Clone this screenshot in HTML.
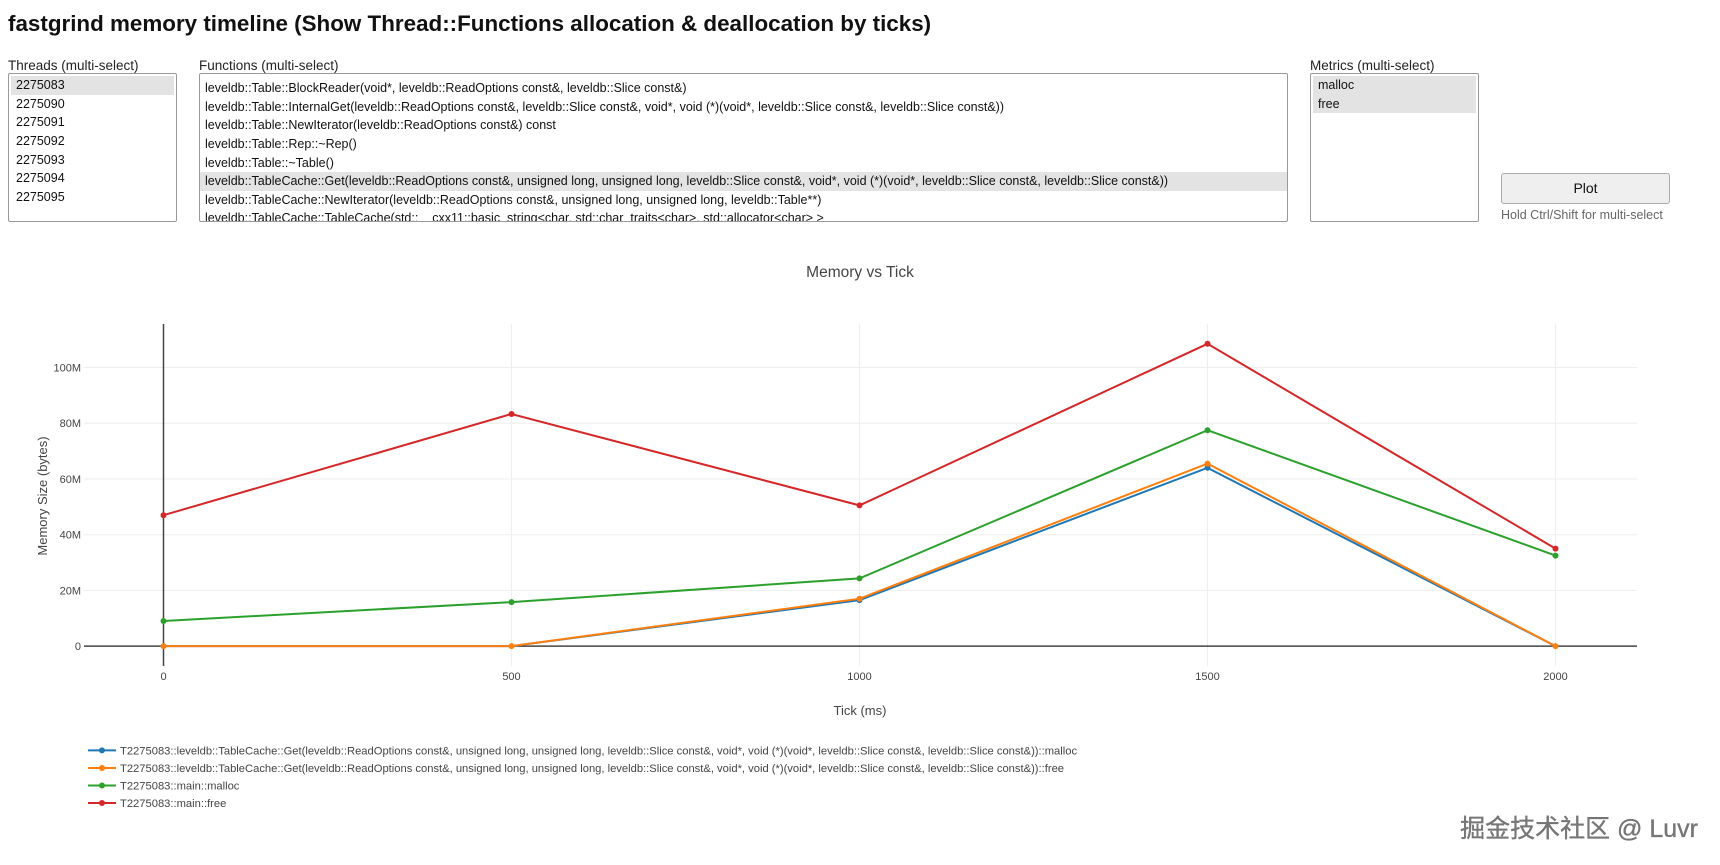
<!DOCTYPE html>
<html><head><meta charset="utf-8"><style>
body{margin:0;width:1720px;height:865px;background:#fff;font-family:"Liberation Sans",sans-serif;position:relative;overflow:hidden;color:#111}
.a{position:absolute}
h1{position:absolute;left:8px;top:11px;margin:0;font-size:22.4px;font-weight:bold;color:#111}
.lbl{position:absolute;font-size:13.5px;color:#222;top:58px}
.box{position:absolute;top:73px;height:145px;border:1px solid #999;border-radius:2px;overflow:hidden;font-size:12.5px;color:#111;background:#fff}
.box div{height:18.65px;line-height:18.65px;padding-left:5px;white-space:nowrap}
.sel{background:#e3e3e3}
</style></head><body>
<h1>fastgrind memory timeline (Show Thread::Functions allocation &amp; deallocation by ticks)</h1>
<div class="lbl" style="left:8px">Threads (multi-select)</div>
<div class="lbl" style="left:199px">Functions (multi-select)</div>
<div class="lbl" style="left:1310px">Metrics (multi-select)</div>
<div class="box" style="left:8px;width:167px;padding-top:2px">
<div class="sel" style="margin-right:2px;margin-left:2px">2275083</div><div style="padding-left:7px">2275090</div><div style="padding-left:7px">2275091</div><div style="padding-left:7px">2275092</div><div style="padding-left:7px">2275093</div><div style="padding-left:7px">2275094</div><div style="padding-left:7px">2275095</div></div>
<div class="box" style="left:199px;width:1087px;padding-top:5px;height:142px">
<div>leveldb::Table::BlockReader(void*, leveldb::ReadOptions const&amp;, leveldb::Slice const&amp;)</div>
<div>leveldb::Table::InternalGet(leveldb::ReadOptions const&amp;, leveldb::Slice const&amp;, void*, void (*)(void*, leveldb::Slice const&amp;, leveldb::Slice const&amp;))</div>
<div>leveldb::Table::NewIterator(leveldb::ReadOptions const&amp;) const</div>
<div>leveldb::Table::Rep::~Rep()</div>
<div>leveldb::Table::~Table()</div>
<div class="sel">leveldb::TableCache::Get(leveldb::ReadOptions const&amp;, unsigned long, unsigned long, leveldb::Slice const&amp;, void*, void (*)(void*, leveldb::Slice const&amp;, leveldb::Slice const&amp;))</div>
<div>leveldb::TableCache::NewIterator(leveldb::ReadOptions const&amp;, unsigned long, unsigned long, leveldb::Table**)</div>
<div>leveldb::TableCache::TableCache(std::__cxx11::basic_string&lt;char, std::char_traits&lt;char&gt;, std::allocator&lt;char&gt; &gt;</div></div>
<div class="box" style="left:1310px;width:167px;padding-top:2px">
<div class="sel" style="margin:0 2px">malloc</div><div class="sel" style="margin:0 2px">free</div></div>
<div class="a" style="left:1501px;top:173px;width:167px;height:29px;border:1px solid #aaa;border-radius:3px;background:#efefef;font-size:14px;text-align:center;line-height:29px;color:#111">Plot</div>
<div class="a" style="left:1501px;top:208px;font-size:12.5px;color:#666">Hold Ctrl/Shift for multi-select</div>
<svg class="a" style="left:0;top:0" width="1720" height="865" font-family="Liberation Sans, sans-serif">
<text x="860" y="277" font-size="15.5" fill="#444" text-anchor="middle">Memory vs Tick</text>
<g stroke="#eee" stroke-width="1">
<line x1="511.5" y1="324" x2="511.5" y2="666"/><line x1="859.5" y1="324" x2="859.5" y2="666"/><line x1="1207.5" y1="324" x2="1207.5" y2="666"/><line x1="1555.5" y1="324" x2="1555.5" y2="666"/>
<line x1="84" y1="590.4" x2="1637" y2="590.4"/><line x1="84" y1="534.7" x2="1637" y2="534.7"/><line x1="84" y1="479" x2="1637" y2="479"/><line x1="84" y1="423.2" x2="1637" y2="423.2"/><line x1="84" y1="367.5" x2="1637" y2="367.5"/>
</g>
<line x1="84" y1="646.1" x2="1637" y2="646.1" stroke="#444" stroke-width="1.5"/>
<line x1="163.5" y1="324" x2="163.5" y2="666" stroke="#444" stroke-width="1.5"/>
<g font-size="11" fill="#444" text-anchor="end">
<text x="81" y="650">0</text><text x="81" y="594.4">20M</text><text x="81" y="538.7">40M</text><text x="81" y="483">60M</text><text x="81" y="427.2">80M</text><text x="81" y="371.5">100M</text></g>
<g font-size="11" fill="#444" text-anchor="middle">
<text x="163.5" y="680">0</text><text x="511.5" y="680">500</text><text x="859.5" y="680">1000</text><text x="1207.5" y="680">1500</text><text x="1555.5" y="680">2000</text></g>
<text x="860" y="715" font-size="13" fill="#444" text-anchor="middle">Tick (ms)</text>
<text transform="translate(47,496) rotate(-90)" font-size="13" fill="#444" text-anchor="middle">Memory Size (bytes)</text>
<g fill="none" stroke-width="2">
<polyline stroke="#1f77b4" points="163.5,646.1 511.5,646.1 859.5,600.1 1207.5,467.8 1555.5,646.1"/>
<polyline stroke="#ff7f0e" points="163.5,646.1 511.5,646.1 859.5,598.7 1207.5,463.6 1555.5,646.1"/>
<polyline stroke="#2ca02c" points="163.5,621 511.5,602.1 859.5,578.4 1207.5,430.2 1555.5,555.6"/>
<polyline stroke="#d62728" points="163.5,515.2 511.5,414 859.5,505.4 1207.5,343.8 1555.5,548.6"/>
</g>
<g fill="#1f77b4"><circle cx="859.5" cy="600.1" r="3"/><circle cx="1207.5" cy="467.8" r="3"/></g>
<g fill="#ff7f0e"><circle cx="163.5" cy="646.1" r="3"/><circle cx="511.5" cy="646.1" r="3"/><circle cx="859.5" cy="598.7" r="3"/><circle cx="1207.5" cy="463.6" r="3"/><circle cx="1555.5" cy="646.1" r="3"/></g>
<g fill="#2ca02c"><circle cx="163.5" cy="621" r="3"/><circle cx="511.5" cy="602.1" r="3"/><circle cx="859.5" cy="578.4" r="3"/><circle cx="1207.5" cy="430.2" r="3"/><circle cx="1555.5" cy="555.6" r="3"/></g>
<g fill="#d62728"><circle cx="163.5" cy="515.2" r="3"/><circle cx="511.5" cy="414" r="3"/><circle cx="859.5" cy="505.4" r="3"/><circle cx="1207.5" cy="343.8" r="3"/><circle cx="1555.5" cy="548.6" r="3"/></g>
<g stroke-width="2">
<line x1="88" y1="750.4" x2="116" y2="750.4" stroke="#1f77b4"/><circle cx="102" cy="750.4" r="3" fill="#1f77b4"/>
<line x1="88" y1="768" x2="116" y2="768" stroke="#ff7f0e"/><circle cx="102" cy="768" r="3" fill="#ff7f0e"/>
<line x1="88" y1="785.5" x2="116" y2="785.5" stroke="#2ca02c"/><circle cx="102" cy="785.5" r="3" fill="#2ca02c"/>
<line x1="88" y1="803" x2="116" y2="803" stroke="#d62728"/><circle cx="102" cy="803" r="3" fill="#d62728"/>
</g>
<g font-size="11.2" fill="#444">
<text x="120" y="754.4">T2275083::leveldb::TableCache::Get(leveldb::ReadOptions const&amp;, unsigned long, unsigned long, leveldb::Slice const&amp;, void*, void (*)(void*, leveldb::Slice const&amp;, leveldb::Slice const&amp;))::malloc</text>
<text x="120" y="772">T2275083::leveldb::TableCache::Get(leveldb::ReadOptions const&amp;, unsigned long, unsigned long, leveldb::Slice const&amp;, void*, void (*)(void*, leveldb::Slice const&amp;, leveldb::Slice const&amp;))::free</text>
<text x="120" y="789.5">T2275083::main::malloc</text>
<text x="120" y="807">T2275083::main::free</text>
</g>
<text x="1698" y="837" font-size="25" fill="#777" stroke="#666" stroke-width="0.3" text-anchor="end" font-family="Liberation Sans, Noto Sans CJK SC, sans-serif">掘金技术社区 @ Luvr</text>
</svg>
</body></html>
